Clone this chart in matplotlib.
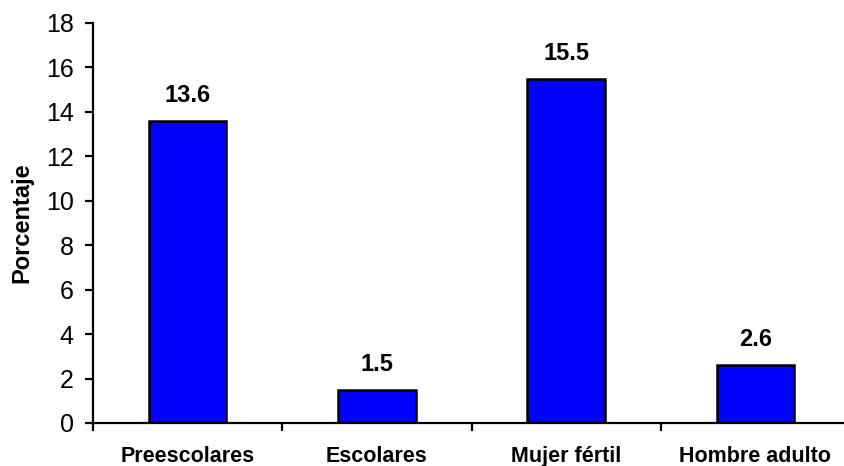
import matplotlib.pyplot as plt
import numpy as np

categories = ["Preescolares", "Escolares", "Mujer fértil", "Hombre adulto"]
values = [13.6, 1.5, 15.5, 2.6]
yticks = [0, 2, 4, 6, 8, 10, 12, 14, 16, 18]

plt.rcParams["font.family"] = ["Liberation Sans", "DejaVu Sans"]

fig = plt.figure(figsize=(8.44, 4.66), dpi=100)
ax = fig.add_axes([93 / 844, 43 / 466, 757 / 844, 400 / 466])

x = np.arange(len(categories))
ax.bar(x, values, width=0.41, color="#0000FF", edgecolor="black", linewidth=1.8)

for xi, v in zip(x, values):
    ax.text(xi, v + 1.15, f"{v:.1f}", ha="center", va="center",
            fontsize=17, fontweight="bold")

ax.set_xlim(-0.5, len(categories) - 0.5)
ax.set_ylim(0, 18)
ax.set_yticks(yticks)
ax.tick_params(axis="y", labelsize=18, length=6, width=1.6, direction="out", pad=8)

# category ticks sit between the bars, labels in the middle
ax.set_xticks(np.arange(len(categories) + 1) - 0.5)
ax.set_xticklabels([])
ax.tick_params(axis="x", length=6, width=1.6, direction="out")
for xi, c in zip(x, categories):
    ax.text(xi, -0.097, c, transform=ax.get_xaxis_transform(), ha="center",
            va="baseline", fontsize=15.5, fontweight="bold")

ax.set_ylabel("Porcentaje", fontsize=17, fontweight="bold")
ax.yaxis.set_label_coords(-60 / 757, 0.5)

ax.spines["top"].set_visible(False)
ax.spines["right"].set_visible(False)
ax.spines["left"].set_linewidth(1.6)
ax.spines["bottom"].set_linewidth(1.6)

fig.savefig("out.png", dpi=100)
